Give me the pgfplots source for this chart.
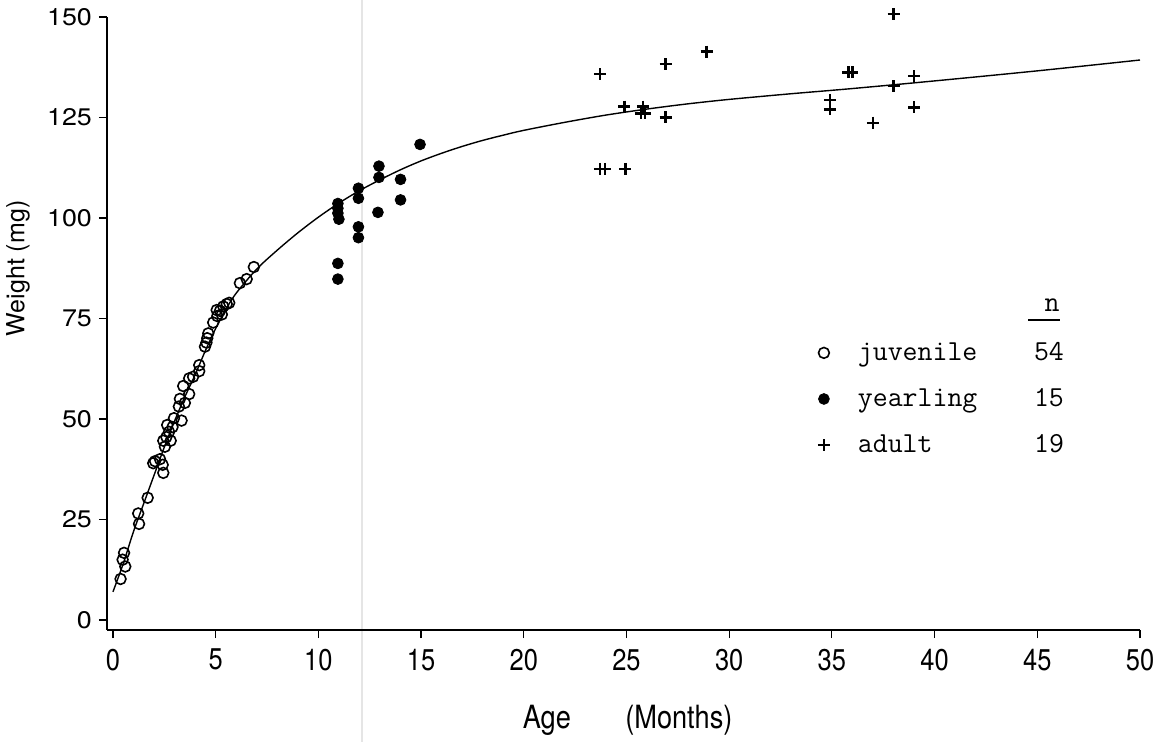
\documentclass[border=0pt]{standalone}
\usepackage{fontspec}
\setmainfont{TeX Gyre Heros}
\newfontfamily\narrowsf[FakeStretch=0.85]{TeX Gyre Heros}
\newfontfamily\widesf[FakeStretch=1.12]{TeX Gyre Heros}
\usepackage{pgfplots}
\pgfplotsset{compat=1.18}
\begin{document}
\begin{tikzpicture}
\draw[black!10,line width=0.6pt] (127.5pt,-56pt) -- (127.5pt,315pt);
\begin{axis}[
  scale only axis,
  width=516.5pt, height=306.5pt,
  xmin=-0.29, xmax=50, ymin=-2.49, ymax=150,
  axis lines=left,
  axis line style={-, line width=0.7pt},
  tick align=outside,
  major tick length=4pt,
  tick style={line width=0.6pt, black},
  xtick={0,5,...,50}, ytick={0,25,...,150},
  /pgf/number format/assume math mode=true,
  xticklabel style={font=\fontsize{15}{18}\narrowsf, yshift=-2pt},
  yticklabel style={font=\fontsize{12}{14}\widesf},
  xlabel={Age\hspace{1.7em}(Months)},
  ylabel={Weight (mg)},
  xlabel style={font=\fontsize{16}{19}\narrowsf, at={(axis description cs:0.504,-0.147)}, anchor=center},
  ylabel style={font=\fontsize{12.5}{15}\selectfont, at={(axis description cs:-0.0862,0.59)}, anchor=center},
  legend style={at={(axis description cs:0.682,0.483)}, anchor=north west, draw=none, fill=none,
    font=\fontsize{14.5}{17}\ttfamily, row sep=8.5pt},
  legend cell align=left,
  clip=false,
]
\addplot[black, line width=0.7pt, smooth, forget plot] coordinates {
(0,7) (0.5,14) (1,22) (1.5,29) (2,36) (2.5,43) (3,49.5) (3.5,55.5) (4,61) (4.5,67) (5,72.5) (5.5,77.3) (6,81.3) (7,87.3) (8,92) (9,96.3) (10,100.2) (11,103.7) (12,106.8) (13,109.5) (14,112) (15,114.2) (16,116.1) (17,117.8) (18,119.3) (19,120.6) (20,121.8) (22,123.8) (24,125.6) (26,127.1) (28,128.4) (30,129.5) (33,130.9) (36,132.2) (40,134.1) (45,136.6) (50,139.3)
};
\addplot[only marks, mark=o, mark size=2.7pt, black, mark options={line width=0.8pt}] coordinates {
(0.37,10.2) (0.54,16.7) (0.47,15.0) (0.60,13.3) (1.23,26.5) (1.27,23.9) (1.69,30.4)
(1.96,39.0) (2.29,40.0) (2.42,38.6) (2.45,36.6) (2.53,43.1) (2.45,44.6) (2.81,44.6)
(2.73,46.8) (2.64,48.5) (2.97,50.2) (3.34,49.6) (3.21,53.1) (3.26,55.0) (3.71,56.2)
(3.42,58.2) (3.71,60.1) (4.20,63.4) (4.20,61.9) (4.59,70.1) (4.48,68.0) (4.64,71.3)
(4.88,74.0) (5.08,75.6) (5.21,76.9) (5.37,78.0) (5.54,78.6) (5.66,78.9) (5.05,77.1)
(6.18,83.8) (6.51,84.8) (6.86,87.8) (2.6,45.5) (2.9,48) (3.5,54) (3.9,60.5) (4.55,69) (5.3,76) (2.05,39.5)
};
\addlegendentry{\hspace{12pt}\makebox[103pt][l]{juvenile\hfill 54}}
\addplot[only marks, mark=*, mark size=2.7pt, black] coordinates {
(10.95,103.6) (10.95,102.4) (10.95,101.2) (11.0,99.7) (10.95,88.7) (10.95,84.8)
(11.95,107.4) (11.95,104.9) (11.95,97.8) (11.95,95.1) (12.95,112.9) (12.95,110.1)
(12.9,101.4) (14.0,109.6) (14.0,104.5) (14.95,118.3)
};
\addlegendentry{\hspace{12pt}\makebox[103pt][l]{yearling\hfill 15}}
\addplot[only marks, mark=+, mark size=3pt, black, line width=1.2pt] coordinates {
(23.7,135.8) (24.9,127.7) (25.8,127.7) (25.9,126.0) (25.7,126.0) (26.9,138.3) (26.9,125.0)
(28.9,141.4) (34.9,129.4) (34.9,127.0) (35.8,136.2) (36.0,136.2) (37.0,123.7) (38.0,150.7)
(38.0,132.8) (39.0,135.3) (39.0,127.5) (23.7,112.2) (23.95,112.2) (24.95,112.2)
};
\addlegendentry{\hspace{12pt}\makebox[103pt][l]{adult\hfill 19}}
\node[font=\fontsize{14.5}{17}\ttfamily, anchor=base] at (axis description cs:0.915,0.52) {n};
\draw[line width=0.8pt] (axis description cs:0.8916,0.506) -- (axis description cs:0.9226,0.506);
\end{axis}
\pgfresetboundingbox
\path[use as bounding box] (-53.5pt,-56pt) rectangle (531.5pt,315pt);
\end{tikzpicture}
\end{document}
